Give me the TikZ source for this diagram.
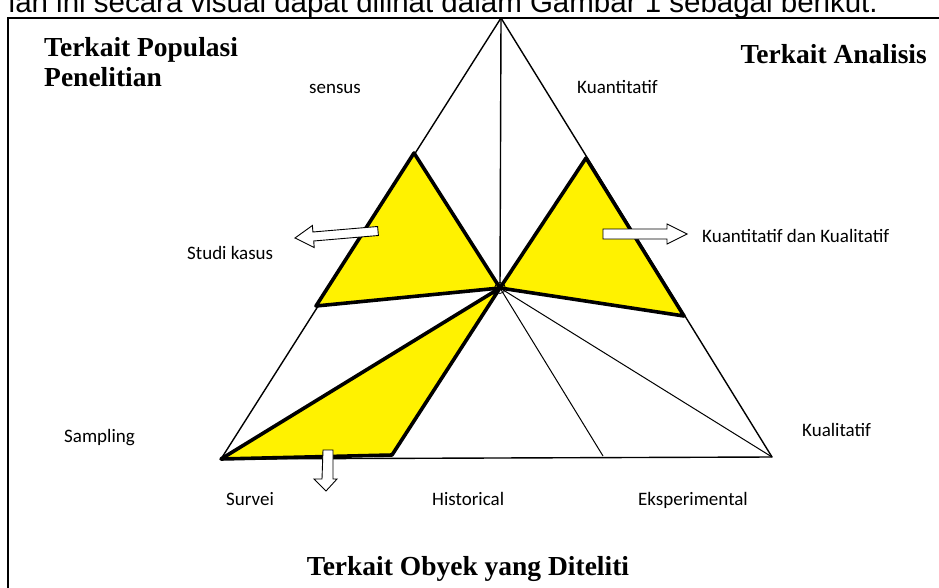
\documentclass[tikz,border=0pt]{standalone}
\usepackage{fontspec}
\setmainfont{Liberation Serif}
\newfontfamily\lblfont{Carlito}
\newfontfamily\arialfont{Liberation Sans}
\begin{document}
\begin{tikzpicture}[x=1pt,y=-1pt,
  thinline/.style={line width=1.4pt,line join=round},
  yellowpart/.style={fill=yellow,draw=black,line width=3.6pt,line join=round},
  blockarrow/.style={fill=white,draw=black,line width=0.9pt,line join=miter},
  lbl/.style={font=\lblfont\fontsize{19}{22}\selectfont,inner sep=0pt},
  title/.style={font=\bfseries\fontsize{27.5}{32}\selectfont,inner sep=0pt,align=left}]
\useasboundingbox (0,0) rectangle (939,588);
\begin{scope}
\clip (0,0) rectangle (939,588);
\node[font=\arialfont\fontsize{29.5}{34}\selectfont,anchor=base east,inner sep=0pt] (intro) at (878,13) {ian ini secara visual dapat dilihat dalam Gambar 1 sebagai berikut.};
\draw[line width=1.6pt] (8,620) -- (8,18) -- (960,18);
\end{scope}
% key points
\coordinate (A) at (501,18);
\coordinate (L) at (221,459);
\coordinate (R) at (772,457);
\coordinate (C) at (500,288);
\coordinate (H) at (603,456);
\coordinate (Y1) at (414,153);
\coordinate (Y2) at (316,306);
\coordinate (Y3) at (586,158);
\coordinate (Y4) at (684,316);
\coordinate (Q) at (392,455);
% big triangle and internal lines
\draw[thinline] (A) -- (L) -- (R) -- cycle;
\draw[thinline] (A) -- (C);
\draw[line width=1pt] (C) -- (H);
\draw[line width=1pt] (C) -- (R);
% yellow shapes
\draw[yellowpart] (Y1) -- (Y2) -- (C) -- cycle;
\draw[yellowpart] (Y3) -- (Y4) -- (C) -- cycle;
\draw[yellowpart] (L) -- (C) -- (Q) -- cycle;
\draw[line width=0.8pt] (C) circle[radius=5.5];
% block arrows
\draw[blockarrow] (377.6,226.5) -- (312.9,232.0) -- (312.4,225.5) -- (295,238) -- (314.2,247.5) -- (313.7,241.0) -- (378.4,235.5) -- cycle;
\draw[blockarrow] (603,229) -- (667,229) -- (667,224) -- (687,234) -- (667,244) -- (667,239) -- (603,239) -- cycle;
\draw[blockarrow] (323,450) -- (333,450) -- (333,479) -- (337,479) -- (326,491) -- (314,479) -- (322,479) -- cycle;
% labels
\node[lbl,anchor=base west] (sensus) at (309,94) {sensus};
\node[lbl,anchor=base west] (kuan) at (577,94) {Kuantitatif};
\node[lbl,anchor=base west] (studi) at (187,259) {Studi kasus};
\node[lbl,anchor=base west] (kuankual) at (702,242) {Kuantitatif dan Kualitatif};
\node[lbl,anchor=base west] (sampling) at (64,442) {Sampling};
\node[lbl,anchor=base west] (kual) at (802,436) {Kualitatif};
\node[lbl,anchor=base west] (survei) at (226,505) {Survei};
\node[lbl,anchor=base west] (hist) at (432,505) {Historical};
\node[lbl,anchor=base west] (eksp) at (638,505) {Eksperimental};
% titles
\node[title,anchor=base west] (tpop) at (44,57) {Terkait Populasi};
\node[title,anchor=base west] (tpen) at (44,87) {Penelitian};
\node[title,anchor=base east] (tana) at (927,64) {Terkait Analisis};
\node[title,anchor=base] (tobj) at (468,575) {Terkait Obyek yang Diteliti};
\end{tikzpicture}
\end{document}
